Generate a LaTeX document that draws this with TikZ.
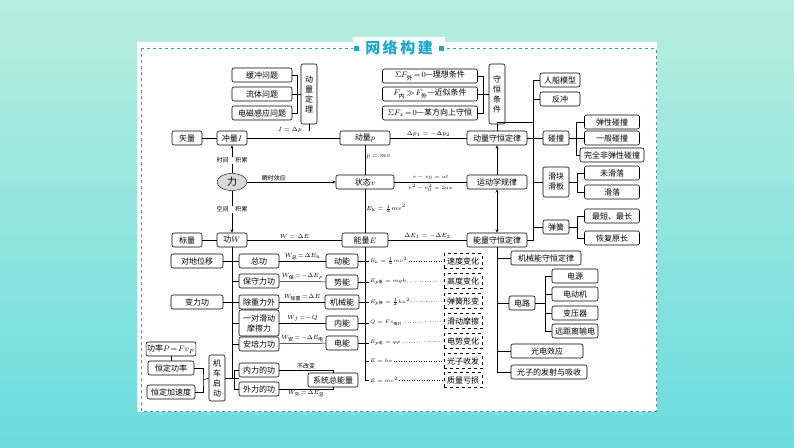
\documentclass[tikz,border=0pt]{standalone}
\usepackage{fontspec}
\usepackage{amsmath}
\newfontfamily\cjk{Noto Sans CJK SC}
\usetikzlibrary{shapes.geometric}
\definecolor{teal1}{HTML}{B8EEDD}
\definecolor{teal2}{HTML}{6ADCE0}
\definecolor{titlec}{HTML}{1CA8C8}
\newcommand\fsize{\fontsize{8}{9}\selectfont}
\begin{document}
\begin{tikzpicture}[x=1pt,y=-1pt,
font=\cjk\fsize,
box/.style={draw,rounded corners=2pt,line width=.6pt,minimum height=14pt,inner sep=1pt},
vbox/.style={box,align=center,minimum width=16pt,font=\cjk\fontsize{8}{10}\selectfont},
dbox/.style={draw,dashed,line width=.5pt,minimum height=15pt,minimum width=38pt,inner sep=1pt},
lab/.style={font=\cjk\fontsize{6}{7}\selectfont,inner sep=1pt},
ln/.style={line width=.5pt},
>=stealth
]
\useasboundingbox (0,0) rectangle (794,447);
\shade[top color=teal1,bottom color=teal2] (0,0) rectangle (794,447);
\fill[white] (137,42) rectangle (657,412);
\draw[dashed,titlec!60!gray,line width=.5pt] (141,48) -- (141,411) -- (656,411) -- (656,48);
\draw[dashed,titlec,line width=.5pt] (141,48) -- (656,48);
\node[fill=white,text=titlec,font=\cjk\fontsize{15}{16}\selectfont\bfseries,inner xsep=12pt] (title) at (399,48) {网\,络\,构\,建};
\fill[titlec] ([xshift=3pt]title.west) +(-2.5,-2.5) rectangle +(2.5,2.5);
\fill[titlec] ([xshift=-3pt]title.east) +(-2.5,-2.5) rectangle +(2.5,2.5);

% top groups
\node[box,minimum width=60pt] (hc) at (262,75) {缓冲问题};
\node[box,minimum width=60pt] (lt) at (262,94) {流体问题};
\node[box,minimum width=60pt] (dc) at (262,113) {电磁感应问题};
\node[vbox,minimum height=60pt] (dlt) at (309,94) {动\\量\\定\\理};
\node[box,minimum width=95pt] (tj1) at (430,76) {$\Sigma F_{\text{\cjk 外}}\!=\!0$—理想条件};
\node[box,minimum width=95pt] (tj2) at (430,94) {$F_{\text{\cjk 内}}\!\gg\!F_{\text{\cjk 外}}$—近似条件};
\node[box,minimum width=95pt] (tj3) at (430,113) {$\Sigma F_x\!=\!0$—某方向上守恒};
\node[vbox,minimum height=60pt] (shtj) at (497,94) {守\\恒\\条\\件};
\node[box,minimum width=40pt] (rc) at (560,80) {人船模型};
\node[box,minimum width=40pt] (fc) at (560,99) {反冲};

% rows
\node[box,minimum width=30pt] (sl) at (187,138) {矢量};
\node[box,minimum width=30pt] (cl) at (232,138) {冲量$I$};
\node[box,minimum width=50pt] (dl) at (365,138) {动量$p$};
\node[box,minimum width=60pt] (dlsh) at (497,138) {动量守恒定律};
\node[box,minimum width=26pt] (pz) at (556,138) {碰撞};
\node[box,minimum width=55pt] (tx) at (612,122) {弹性碰撞};
\node[box,minimum width=55pt] (yb) at (612,138) {一般碰撞};
\node[box,minimum width=64pt] (wq) at (612,155) {完全非弹性碰撞};

\node[ellipse,draw,fill=gray!30,minimum width=30pt,minimum height=17pt,inner sep=0pt,font=\cjk\fontsize{10}{10}\selectfont] (li) at (232,182) {力};
\node[box,minimum width=58pt] (zt) at (365,182) {状态$v$};
\node[box,minimum width=60pt] (yd) at (497,182) {运动学规律};
\node[vbox,minimum width=26pt,minimum height=30pt] (hk) at (556,182) {滑块\\滑板};
\node[box,minimum width=55pt] (wh) at (612,173) {未滑落};
\node[box,minimum width=55pt] (hl) at (612,192) {滑落};
\node[box,minimum width=26pt] (th) at (556,227) {弹簧};
\node[box,minimum width=55pt] (zd) at (612,216) {最短、最长};
\node[box,minimum width=55pt] (hf) at (612,238) {恢复原长};

\node[box,minimum width=30pt] (bl) at (187,240) {标量};
\node[box,minimum width=30pt] (gw) at (232,240) {功$W$};
\node[box,minimum width=46pt] (nl) at (365,240) {能量$E$};
\node[box,minimum width=60pt] (nlsh) at (497,240) {能量守恒定律};

\node[box,minimum width=70pt] (jx) at (546,258) {机械能守恒定律};
\node[box,minimum width=26pt] (dlu) at (522,303) {电路};
\node[box,minimum width=46pt] (dy) at (575,276) {电源};
\node[box,minimum width=46pt] (ddj) at (575,294) {电动机};
\node[box,minimum width=46pt] (byq) at (575,313) {变压器};
\node[box,minimum width=46pt] (ycs) at (575,331) {远距离输电};
\node[box,minimum width=72pt] (gd) at (547,351) {光电效应};
\node[box,minimum width=76pt] (gz) at (549,372) {光子的发射与吸收};

% left lower
\node[box,minimum width=52pt] (dd) at (197,261) {对地位移};
\node[box,minimum width=52pt] (bg) at (197,302) {变力功};
\node[box,minimum width=40pt] (zg) at (259,261) {总功};
\node[box,minimum width=40pt] (bs) at (259,281) {保守力功};
\node[box,minimum width=40pt] (cz) at (259,302) {除重力外};
\node[vbox,minimum width=40pt,minimum height=26pt] (mc) at (259,323) {一对滑动\\摩擦力};
\node[box,minimum width=40pt] (ap) at (259,344) {安培力功};
\node[box,minimum width=40pt] (nlg) at (259,370) {内力的功};
\node[box,minimum width=40pt] (wlg) at (259,389) {外力的功};
\node[box,minimum width=46pt] (gl) at (171,349) {功率$P\!=\!Fv_F$};
\node[box,minimum width=46pt] (hg) at (171,368) {恒定功率};
\node[box,minimum width=48pt] (hj) at (171,392) {恒定加速度};
\node[vbox,minimum height=46pt] (jc) at (217,378) {机\\车\\启\\动};

\node[box,minimum width=32pt] (dn) at (342,261) {动能};
\node[box,minimum width=32pt] (sn) at (342,282) {势能};
\node[box,minimum width=34pt] (jxn) at (342,302) {机械能};
\node[box,minimum width=32pt] (nn) at (342,323) {内能};
\node[box,minimum width=32pt] (dn2) at (342,343) {电能};
\node[box,minimum width=50pt] (xt) at (333,380) {系统总能量};

% formulas
\foreach \n/\y/\t in {f1/261/{E_\mathrm{k}=\tfrac12mv^2},f2/282/{E_{p\text{\cjk 重}}=mgh},f3/302/{E_{p\text{\cjk 弹}}=\tfrac12kx^2},f4/323/{Q=Fs_{\text{\cjk 相对}}},f5/343/{E_{p\text{\cjk 电}}=q\varphi},f6/361/{E=h\nu},f7/380/{E=mc^2}}
  \node[lab,anchor=west,font=\fontsize{5.5}{6}\selectfont] (\n) at (369,\y) {$\t$};
\foreach \n/\y/\t in {d1/261/速度变化,d2/281/高度变化,d3/301/弹簧形变,d4/321/滑动摩擦,d5/341/电势变化,d6/361/光子收发,d7/380/质量亏损}
  \node[dbox] (\n) at (463,\y) {\t};
\foreach \i in {1,...,7}
  \draw[ln,dotted] (f\i.east) -- (d\i.west);

% connectors top
\draw[ln] (hc.east) -- ++(5,0) |- (dc.east);
\draw[ln] (lt.east) -- (dlt.west);
\draw[ln] (tj1.east) -- ++(5,0) |- (tj3.east);
\draw[ln] (tj2.east) -- (shtj.west);
\draw[ln] (shtj) -- (dlsh);
\coordinate (rb) at (533,122);
\draw[ln] (rb -| shtj) -- (rb) |- (rc.west);
\draw[ln] (rb |- fc) -- (fc.west);
\draw[ln] (rb) -- (rb |- nlsh) -- (nlsh.east);
\draw[ln] (dlsh.east) -- (pz.west);
\draw[ln] (pz.east) -- (yb.west);
\draw[ln] (tx.west) -- ++(-8,0) |- (wq.west);
\draw[ln] (rb |- hk) -- (hk.west);
\draw[ln] (hk.east) -- ++(8,0) coordinate (hb);
\draw[ln] (wh.west) -| (hb) |- (hl.west);
\draw[ln] (rb |- th) -- (th.west);
\draw[ln] (th.east) -- ++(8,0) coordinate (tb);
\draw[ln] (zd.west) -| (tb) |- (hf.west);

% main rows
\draw[ln] (sl) -- (cl);
\draw[ln] (cl) -- (dl);
\draw[ln] (dlt.south) -- (dlt |- cl.north);
\node[lab] (lb1) at (290,130) {$I=\Delta p$};
\draw[ln] (dl) -- node[lab,above] {$\Delta p_1=-\Delta p_2$} (dlsh);
\draw[ln] (dl) -- node[lab,right,pos=.4] {$p=mv$} (zt);
\draw[ln] (zt) -- node[lab,right,pos=.45] {$E_\mathrm{k}=\tfrac12mv^2$} (nl);
\draw[ln,->] (li) -- node[lab,fill=white,pos=.45] {时间\hspace{7pt}积累} (cl);
\draw[ln,->] (li) -- node[lab,fill=white,pos=.45] {空间\hspace{7pt}积累} (gw);
\draw[ln,->] (li) -- node[lab,above,pos=.3] {瞬时效应} (zt);
\draw[ln] (zt) -- node[lab,above=1pt,font=\fontsize{5.5}{6}\selectfont] {$v-v_0=at$} node[lab,below=1pt,font=\fontsize{5.5}{6}\selectfont] {$v^2-v_0^2=2ax$} (yd);
\draw[ln,->] (yd) -- (dlsh);
\draw[ln,<->] (yd) -- (nlsh);
\draw[ln] (bl) -- (gw);
\draw[ln] (gw) -- node[lab,above] {$W=\Delta E$} (nl);
\draw[ln] (nl) -- node[lab,above] {$\Delta E_1=-\Delta E_2$} (nlsh);

% energy branch right
\draw[ln] (nlsh.south) -- (nlsh |- gz);
\foreach \n in {jx,dlu,gd,gz}
  \draw[ln] (nlsh |- \n) -- (\n.west);
\draw[ln] (dlu.east) -- ++(10,0) coordinate (eb);
\draw[ln] (dy.west) -| (eb) |- (ycs.west);
\draw[ln] (eb |- ddj) -- (ddj.west);
\draw[ln] (eb |- byq) -- (byq.west);

% left work branch
\draw[ln] (gw.south) -- (gw |- jc);
\draw[ln] (dd) -- (zg);
\draw[ln] (bg) -- (cz);
\foreach \n in {bs,mc,ap}
  \draw[ln] (gw |- \n) -- (\n.west);
\draw[ln] (nlg.west) -- ++(-4,0) |- (wlg.west);
\draw[ln] (jc.east) -- (jc -| nlg.west);
\draw[ln] (gl) -- (hg);
\coordinate (jb) at (203,380);
\draw[ln] (hg.east) -| (jb) |- (hj.east);
\draw[ln] (jb) -- (jc.west);

\draw[ln] (zg) -- node[lab,above] {$W_{\text{\cjk 总}}\!=\!\Delta E_\mathrm{k}$} (dn);
\draw[ln] (bs) -- node[lab,above] {$W_{\text{\cjk 保}}\!=\!-\Delta E_p$} (sn);
\draw[ln] (cz) -- node[lab,above] {$W_{\text{\cjk 除重}}\!=\!\Delta E$} (jxn);
\draw[ln] (mc.east |- nn) -- node[lab,above] {$W_f\!=\!-Q$} (nn);
\draw[ln] (ap) -- node[lab,above] {$W_{\text{\cjk 安}}\!=\!-\Delta E_{\text{\cjk 电}}$} (dn2);
\draw[ln] (nlg.east) -- node[lab,above] {不改变} (nlg -| xt) -- (xt.north);
\draw[ln] (wlg.east) -- node[lab,below] {$W_{\text{\cjk 外}}\!=\!\Delta E_{\text{\cjk 总}}$} (wlg -| xt) -- (xt.south);

% energy trunk
\draw[ln] (nl.south) -- (nl |- f7);
\foreach \a/\b in {dn/f1,sn/f2,jxn/f3,nn/f4,dn2/f5}
  \draw[ln] (\a.east) -- (\b.west);
\draw[ln] (nl |- f6) -- (f6.west);
\draw[ln] (nl |- f7) -- (f7.west);

\end{tikzpicture}
\end{document}
